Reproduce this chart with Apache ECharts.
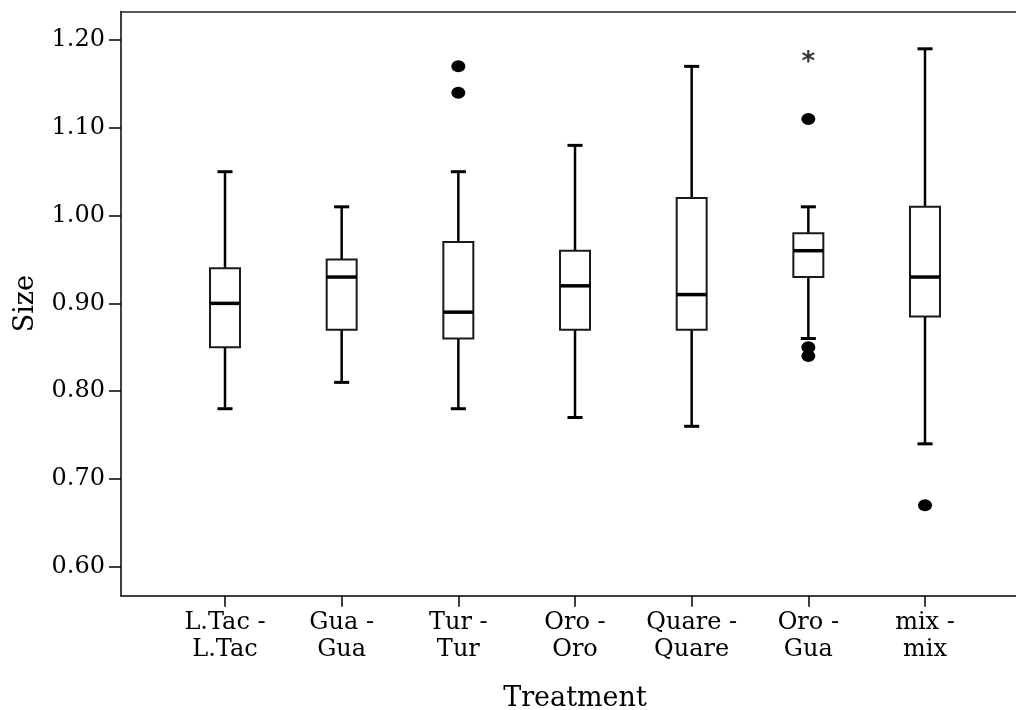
<!DOCTYPE html>
<html>
<head>
<meta charset="utf-8">
<script src="https://cdn.jsdelivr.net/npm/echarts@6/dist/echarts.min.js"></script>
<style>
  html, body { margin: 0; padding: 0; background: #fff; }
  #chart { width: 1016px; height: 710px; }
</style>
</head>
<body>
<div id="chart"></div>
<script>
// Box plot data
const categories = ['L.Tac -\nL.Tac', 'Gua -\nGua', 'Tur -\nTur', 'Oro -\nOro', 'Quare -\nQuare', 'Oro -\nGua', 'mix -\nmix'];
const lowerWhisker = [0.78, 0.81, 0.78, 0.77, 0.76, 0.86, 0.74];
const q1 = [0.85, 0.87, 0.86, 0.87, 0.87, 0.93, 0.885];
const median = [0.90, 0.93, 0.89, 0.92, 0.91, 0.96, 0.93];
const q3 = [0.94, 0.95, 0.97, 0.96, 1.02, 0.98, 1.01];
const upperWhisker = [1.05, 1.01, 1.05, 1.08, 1.17, 1.01, 1.19];

// Outliers (circles) and extremes (asterisks)
const outlierCats = [2, 2, 5, 5, 5, 6];
const outlierValues = [1.17, 1.14, 1.11, 0.85, 0.84, 0.67];
const extremeCats = [5];
const extremeValues = [1.18];

const yTicks = [0.6, 0.7, 0.8, 0.9, 1.0, 1.1, 1.2];
const yMin = 0.567;
const yMax = 1.2325;

const FONT = 'DejaVu Serif';

const chart = echarts.init(document.getElementById('chart'));

const boxData = categories.map((c, i) => [i, lowerWhisker[i], q1[i], median[i], q3[i], upperWhisker[i]]);

const renderBox = (params, api) => {
	const x = api.value(0);
	const band = api.size([1, 0])[0];
	const boxW = band * 0.257;
	const capW = band * 0.129;
	const low = api.coord([x, api.value(1)]);
	const pq1 = api.coord([x, api.value(2)]);
	const med = api.coord([x, api.value(3)]);
	const pq3 = api.coord([x, api.value(4)]);
	const high = api.coord([x, api.value(5)]);
	const cx = low[0];
	const line = (x1, y1, x2, y2, w) => ({
		type: 'line',
		shape: { x1, y1, x2, y2 },
		style: { stroke: '#000', lineWidth: w }
	});
	return {
		type: 'group',
		children: [
			line(cx, high[1], cx, pq3[1], 2.5),
			line(cx, pq1[1], cx, low[1], 2.5),
			line(cx - capW / 2, high[1], cx + capW / 2, high[1], 3),
			line(cx - capW / 2, low[1], cx + capW / 2, low[1], 3),
			{
				type: 'rect',
				shape: { x: cx - boxW / 2, y: pq3[1], width: boxW, height: pq1[1] - pq3[1] },
				style: { fill: '#fff', stroke: '#1a1a1a', lineWidth: 2 }
			},
			line(cx - boxW / 2, med[1], cx + boxW / 2, med[1], 3.5)
		]
	};
};

const option = {
	animation: false,
	backgroundColor: '#fff',
	grid: [
		{ left: 166.67, width: 816.67, top: 11.5, bottom: 114.3, outerBoundsMode: 'none' },
		{ left: 121, right: 0, top: 11.5, bottom: 114.3, outerBoundsMode: 'none' }
	],
	xAxis: [
		{
			gridIndex: 0,
			type: 'category',
			data: categories,
			axisLine: { show: false },
			axisTick: { show: true, alignWithLabel: true, length: 11, lineStyle: { color: '#000', width: 1.5 } },
			axisLabel: {
				color: '#000',
				fontFamily: FONT,
				fontSize: 24,
				lineHeight: 27,
				margin: 14,
				interval: 0
			},
			name: 'Treatment',
			nameLocation: 'middle',
			nameGap: 90,
			nameTextStyle: { color: '#000', fontFamily: FONT, fontSize: 27 },
			splitLine: { show: false }
		},
		{
			gridIndex: 1,
			type: 'value',
			position: 'bottom',
			axisLine: { show: true, onZero: false, lineStyle: { color: '#000', width: 1.5 } },
			axisTick: { show: false },
			axisLabel: { show: false },
			splitLine: { show: false }
		},
		{
			gridIndex: 1,
			type: 'value',
			position: 'top',
			axisLine: { show: true, onZero: false, lineStyle: { color: '#222', width: 1.5 } },
			axisTick: { show: false },
			axisLabel: { show: false },
			splitLine: { show: false }
		}
	],
	yAxis: [
		{
			gridIndex: 0,
			type: 'value',
			min: yMin,
			max: yMax,
			offset: 45.67,
			axisLine: { show: true, lineStyle: { color: '#000', width: 1.5 } },
			axisTick: { show: true, length: 12, customValues: yTicks, lineStyle: { color: '#000', width: 1.5 } },
			axisLabel: {
				color: '#000',
				fontFamily: FONT,
				fontSize: 24,
				margin: 16,
				customValues: yTicks,
				formatter: v => v.toFixed(2)
			},
			name: 'Size',
			nameLocation: 'middle',
			nameRotate: 90,
			nameGap: 82,
			nameTextStyle: { color: '#000', fontFamily: FONT, fontSize: 27 },
			splitLine: { show: false }
		},
		{
			gridIndex: 1,
			type: 'value',
			show: false
		}
	],
	series: [
		{
			type: 'custom',
			xAxisIndex: 0,
			yAxisIndex: 0,
			renderItem: renderBox,
			encode: { x: 0, y: [1, 2, 3, 4, 5] },
			data: boxData
		},
		{
			type: 'scatter',
			xAxisIndex: 0,
			yAxisIndex: 0,
			symbol: 'circle',
			symbolSize: [14, 12],
			itemStyle: { color: '#000', opacity: 1 },
			data: outlierCats.map((c, i) => [c, outlierValues[i]])
		},
		{
			type: 'scatter',
			xAxisIndex: 0,
			yAxisIndex: 0,
			symbol: 'circle',
			symbolSize: 1,
			itemStyle: { color: 'rgba(0,0,0,0)' },
			label: {
				show: true,
				position: 'inside',
				formatter: '*',
				color: '#000',
				fontFamily: 'DejaVu Sans',
				fontWeight: 'bold',
				fontSize: 26,
				offset: [0, 6]
			},
			data: extremeCats.map((c, i) => [c, extremeValues[i]])
		}
	]
};

chart.setOption(option);
</script>
</body>
</html>
